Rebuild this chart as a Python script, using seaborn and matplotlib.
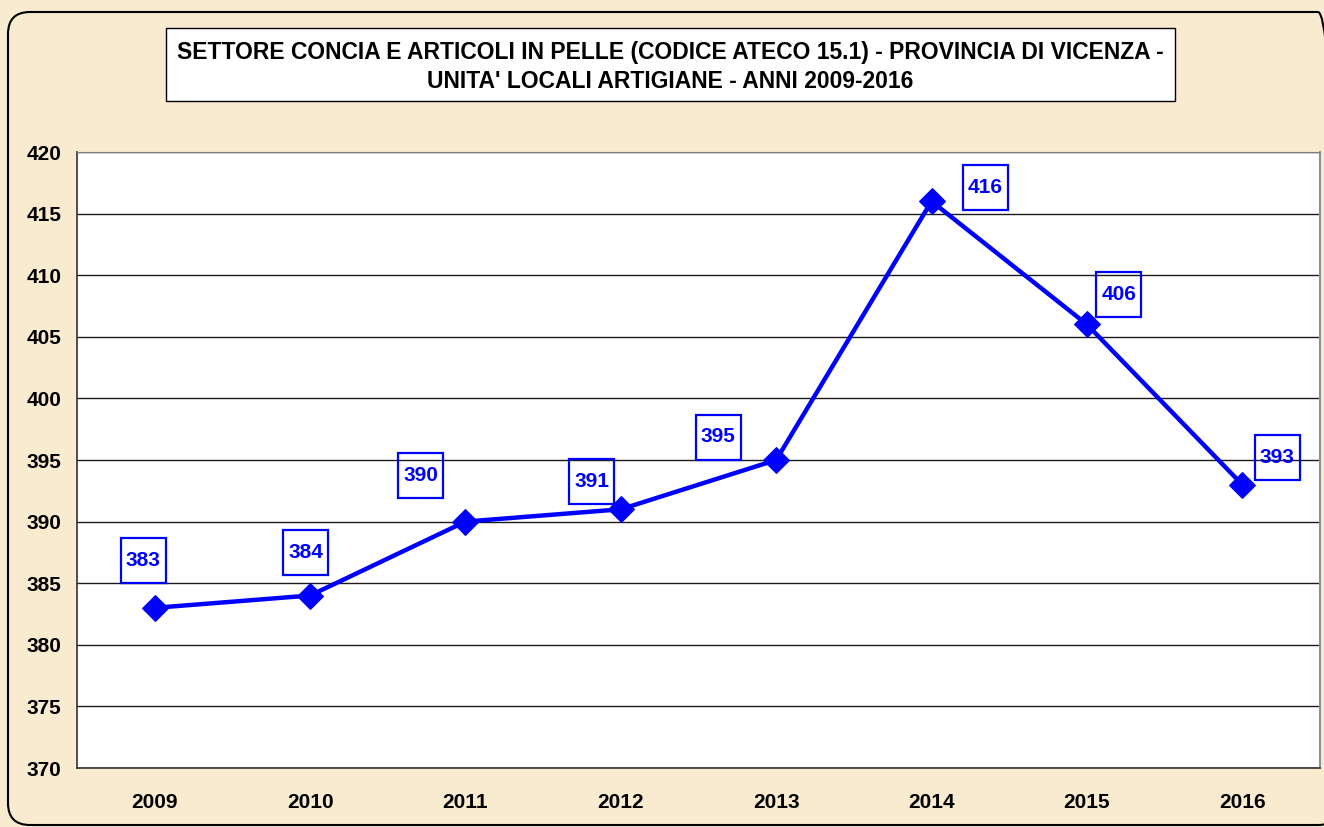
#Line chart - Unita' locali artigiane, concia e pelle (Vicenza)

import seaborn as sns
import matplotlib.pyplot as plt
import pandas as pd
from matplotlib.patches import FancyBboxPatch, Rectangle
from matplotlib.transforms import IdentityTransform

# data
anni = ["2009", "2010", "2011", "2012", "2013", "2014", "2015", "2016"]
unita = [383, 384, 390, 391, 395, 416, 406, 393]
# where each label box sits relative to its point (pixels)
label_dx = [-11.5, -4.5, -44.5, -29, -58, 53.5, 32, 35]
label_dy = [47.5, 43.5, 46, 28, 23, 13.5, 30, 27.5]

titolo = ("SETTORE CONCIA E ARTICOLI IN PELLE (CODICE ATECO 15.1) - PROVINCIA DI VICENZA -\n"
          "UNITA' LOCALI ARTIGIANE - ANNI 2009-2016")

df = pd.DataFrame({"anno": range(len(anni)), "unita": unita})

sns.set_style("white")
plt.rcParams['font.family'] = ['Liberation Sans', 'DejaVu Sans']

W, H = 1324, 827
fig = plt.figure(figsize=(W / 100, H / 100), dpi=100)
fig.patch.set_facecolor("#F9EBCF")

# rounded outer frame (pixel coords)
frame = FancyBboxPatch((8, 2), 1340 - 8, 815 - 2,
                       boxstyle="round,pad=0,rounding_size=22",
                       transform=IdentityTransform(), facecolor="none",
                       edgecolor="black", linewidth=1.5)
fig.patches.append(frame)

# title box
fig.patches.append(Rectangle((166, H - 101), 1175 - 166, 101 - 28, transform=IdentityTransform(),
                             facecolor="white", edgecolor="black", linewidth=1))
fig.text(670 / W, 1 - 67 / H, titolo, ha="center", va="center", fontsize=16.5,
         fontweight="bold", linespacing=1.35, color="black")

ax = fig.add_axes([77 / W, (H - 768) / H, (1320 - 77) / W, (768 - 152) / H])
ax.set_facecolor("white")

sns.lineplot(data=df, x="anno", y="unita", ax=ax, color="#0000FF", linewidth=3.2,
             marker="D", markersize=13, markeredgecolor="#0000FF")

ax.set_xlim(-0.5, len(anni) - 0.5)
ax.set_ylim(370, 420)

# data labels in square blue boxes
for i, v in enumerate(unita):
    px, py = ax.transData.transform((i, v))
    cx, cy = px + label_dx[i], py + label_dy[i]
    fig.patches.append(Rectangle((cx - 22.5, cy - 22.5), 45, 45, transform=IdentityTransform(),
                                 facecolor="none", edgecolor="#0000FF", linewidth=1.6, zorder=5))
    ax.annotate(str(v), (i, v), xytext=(label_dx[i], label_dy[i]), textcoords="offset pixels",
                ha="center", va="center", fontsize=15, fontweight="bold", color="#0000FF",
                annotation_clip=False)

ax.set_yticks(range(370, 421, 5))
ax.yaxis.grid(True, color="#1a1a1a", linewidth=1)
ax.set_axisbelow(True)

ax.set_xticks(range(len(anni)))
ax.set_xticklabels(anni, fontsize=15, fontweight="bold", color="black")
ax.set_xticks([i + 0.5 for i in range(-1, len(anni))], minor=True)
ax.tick_params(axis="x", which="major", length=0, pad=18)
ax.tick_params(axis="x", which="minor", length=7, width=1, direction="out", color="#333333")
ax.tick_params(axis="y", length=7, width=1, direction="out", color="#333333", pad=4)
for t in ax.get_yticklabels():
    t.set_fontweight("bold")
    t.set_fontsize(15)
    t.set_color("black")

ax.set_xlabel("")
ax.set_ylabel("")
ax.spines["top"].set_color("#808080")
ax.spines["right"].set_color("#909090")
ax.spines["right"].set_linewidth(1.5)
for s in ["left", "bottom"]:
    ax.spines[s].set_color("#333333")
    ax.spines[s].set_linewidth(1.2)

plt.savefig("out.png", dpi=100, facecolor=fig.get_facecolor())
